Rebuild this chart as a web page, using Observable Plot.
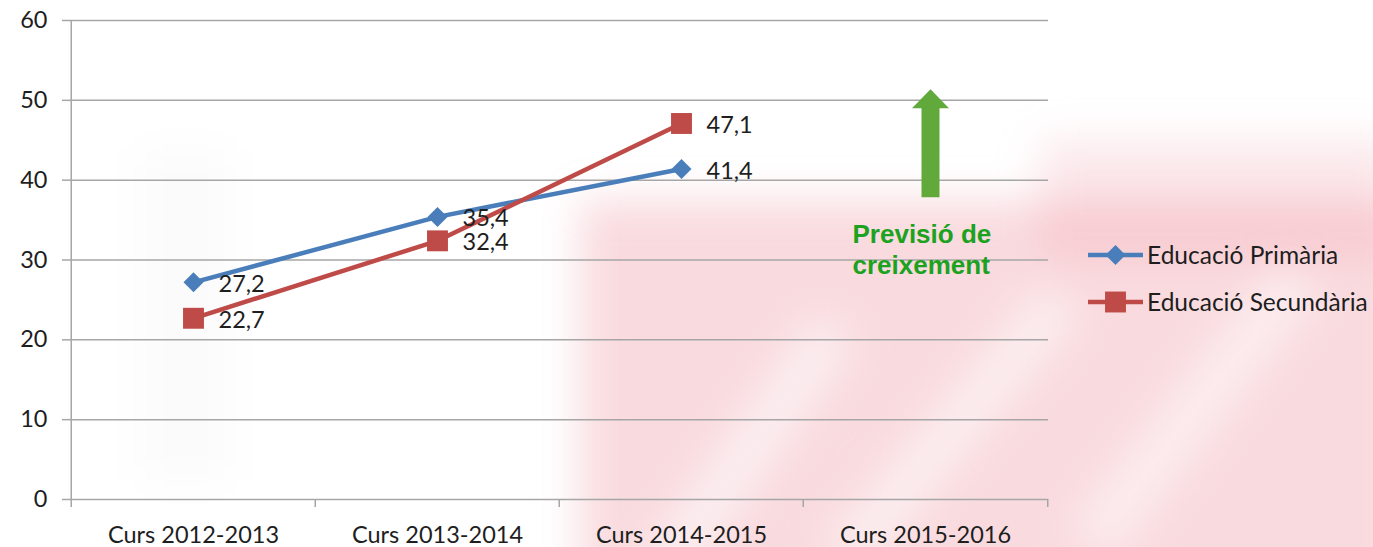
<!DOCTYPE html>
<html>
<head>
<meta charset="utf-8">
<script src="https://cdn.jsdelivr.net/npm/d3@7"></script>
<script src="https://cdn.jsdelivr.net/npm/@observablehq/plot@0.6"></script>
<style>
  html, body { margin: 0; padding: 0; background: #fff; }
  #wrap { position: relative; width: 1373px; height: 547px; overflow: hidden; }
  #bg { position: absolute; left: 0; top: 0; width: 1373px; height: 547px; filter: blur(20px); }
  #bg div { position: absolute; }
  #chart { position: absolute; left: 0; top: 0; }
  #legend { position: absolute; left: 0; top: 0; }
</style>
</head>
<body>
<div id="wrap">
  <div id="bg">
    <div style="left:580px;top:200px;width:830px;height:420px;background:rgba(238,150,162,0.34);"></div>
    <div style="left:1040px;top:140px;width:360px;height:120px;background:rgba(238,150,162,0.22);"></div>
    <div style="left:720px;top:300px;width:45px;height:320px;background:rgba(255,255,255,0.6);transform:rotate(35deg);"></div>
    <div style="left:930px;top:260px;width:45px;height:340px;background:rgba(255,255,255,0.55);transform:rotate(40deg);"></div>
    <div style="left:1170px;top:240px;width:50px;height:340px;background:rgba(255,255,255,0.5);transform:rotate(38deg);"></div>
    <div style="left:140px;top:150px;width:90px;height:330px;background:rgba(0,0,0,0.015);"></div>
  </div>
  <div id="chart"></div>
  <svg id="legend" width="1373" height="547"></svg>
</div>
<script>
const categories = ["Curs 2012-2013", "Curs 2013-2014", "Curs 2014-2015", "Curs 2015-2016"];
const primaria = [27.2, 35.4, 41.4];
const secundaria = [22.7, 32.4, 47.1];
const yTicks = [0, 10, 20, 30, 40, 50, 60];
const seriesNames = ["Educació Primària", "Educació Secundària"];
const forecastLabel = "Previsió de\ncreixement";
const forecastArrow = { cat: "Curs 2015-2016", from: 37.8, headBase: 49.0 };

const blue = "#4a7ebb", red = "#be4b48", green = "#62a93c", textGreen = "#1ca21f";
const grid = "#a6a6a6", ink = "#1e1e1e";
const font = "Lato, 'Open Sans', sans-serif";

const rowsP = primaria.map((v, i) => ({ cat: categories[i], v }));
const rowsS = secundaria.map((v, i) => ({ cat: categories[i], v }));
const fmt = v => v.toFixed(1).replace(".", ",");

const W = 1373, H = 547, mL = 70, mR = 325, mT = 20, mB = 48;
const bw = (W - mL - mR) / categories.length;

const arrowHead = {
  draw(ctx) {
    ctx.moveTo(0, -19);
    ctx.lineTo(18.5, 0);
    ctx.lineTo(-18.5, 0);
    ctx.closePath();
  }
};

const chart = Plot.plot({
  width: W, height: H,
  marginLeft: mL, marginRight: mR, marginTop: mT, marginBottom: mB,
  style: { background: "transparent", fontFamily: font, fontSize: "23px", color: ink, overflow: "visible" },
  x: { type: "band", domain: categories, padding: 0, label: null },
  y: { domain: [0, 60], label: null },
  marks: [
    Plot.ruleY(yTicks, { stroke: grid, strokeWidth: 1.5 }),
    Plot.ruleX([categories[0]], { dx: -bw / 2, y1: -1, y2: 60, stroke: grid, strokeWidth: 1.5 }),
    Plot.ruleX(categories.slice(1), { dx: -bw / 2, y1: -1, y2: 0, stroke: grid, strokeWidth: 1.5 }),
    Plot.ruleX([categories[categories.length - 1]], { dx: bw / 2, y1: -1, y2: 0, stroke: grid, strokeWidth: 1.5 }),
    Plot.axisY({ ticks: yTicks, tickSize: 8, tickPadding: 15, stroke: grid, strokeWidth: 1.5, fill: ink, fontSize: 23.5, label: null }),
    Plot.axisX({ tickSize: 0, tickPadding: 27, fill: ink, fontSize: 23.5, label: null }),
    Plot.line(rowsP, { x: "cat", y: "v", stroke: blue, strokeWidth: 4.5 }),
    Plot.dot(rowsP, { x: "cat", y: "v", symbol: "diamond2", r: 9, fill: blue }),
    Plot.line(rowsS, { x: "cat", y: "v", stroke: red, strokeWidth: 4.5 }),
    Plot.dot(rowsS, { x: "cat", y: "v", symbol: "square", r: 11.8, fill: red }),
    Plot.text(rowsP, { x: "cat", y: "v", text: d => fmt(d.v), textAnchor: "start", dx: 25, dy: 2, fontSize: 23.5, fill: ink }),
    Plot.text(rowsS, { x: "cat", y: "v", text: d => fmt(d.v), textAnchor: "start", dx: 25, dy: 2, fontSize: 23.5, fill: ink }),
    Plot.ruleX([forecastArrow], { x: "cat", y1: "from", y2: "headBase", dx: 5, stroke: green, strokeWidth: 18 }),
    Plot.dot([forecastArrow], { x: "cat", y: "headBase", dx: 5, symbol: arrowHead, r: 10, fill: green }),
    Plot.text([forecastArrow], { x: "cat", y: 34.9, text: () => forecastLabel, dx: -73, textAnchor: "start", lineAnchor: "top", lineHeight: 1.2, fontFamily: "'Liberation Sans', Arial, sans-serif", fontWeight: "bold", fontSize: 26, fill: textGreen })
  ]
});
document.getElementById("chart").appendChild(chart);

// legend
const lg = d3.select("#legend");
const items = [
  { name: seriesNames[0], color: blue, sym: d3.symbolDiamond2, size: Math.PI * 81, y: 255 },
  { name: seriesNames[1], color: red, sym: d3.symbolSquare, size: Math.PI * 11.8 * 11.8, y: 302 }
];
for (const it of items) {
  const g = lg.append("g").attr("transform", `translate(0,${it.y})`);
  g.append("line").attr("x1", 1088).attr("x2", 1143).attr("y1", 0).attr("y2", 0).attr("stroke", it.color).attr("stroke-width", 4.5);
  g.append("path").attr("d", d3.symbol(it.sym, it.size)()).attr("transform", "translate(1115.5,0)").attr("fill", it.color);
  g.append("text").attr("x", 1147).attr("y", 0).attr("dy", "0.35em").attr("font-family", font).attr("font-size", 24.5).attr("fill", ink).text(it.name);
}
</script>
</body>
</html>
